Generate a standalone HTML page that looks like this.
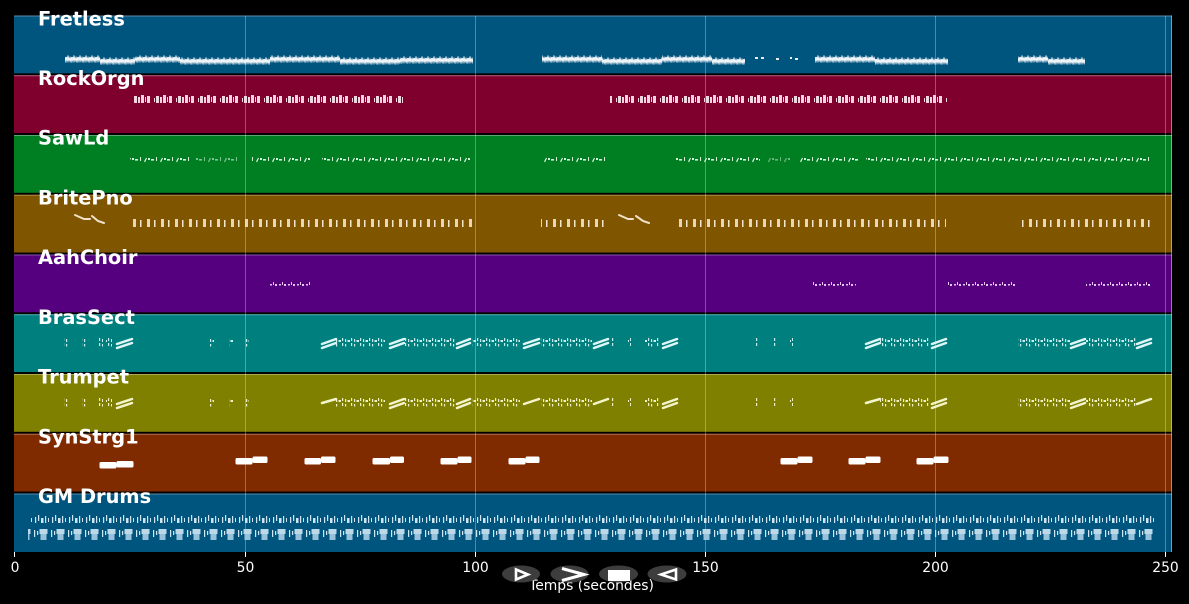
<!DOCTYPE html>
<html><head><meta charset="utf-8"><style>
html,body{margin:0;padding:0;background:#000;}
svg{display:block;}
text{font-family:"DejaVu Sans","Liberation Sans",sans-serif;}
</style></head><body>
<svg width="1189" height="604" viewBox="0 0 1189 604" xmlns="http://www.w3.org/2000/svg">
<defs>
<pattern id="pf" width="6" height="8" patternUnits="userSpaceOnUse">
<polyline points="0,2 1,5.5 2,2 3,5.5 4,3 5,6 6,2" fill="none" stroke="#eef4f8" stroke-width="1.5"/>
</pattern>
<pattern id="pr" width="22" height="9" patternUnits="userSpaceOnUse">
<g fill="#f2d6df"><rect x="0" y="3" width="1" height="4"/><rect x="2" y="1" width="3" height="7"/><rect x="6" y="2" width="2" height="6"/><rect x="9" y="0" width="3" height="8"/><rect x="13" y="2" width="1" height="5"/><rect x="15" y="1" width="3" height="7"/></g>
</pattern>
<pattern id="ps" width="16" height="9" patternUnits="userSpaceOnUse">
<line x1="0.5" y1="7" x2="2.5" y2="3" stroke="#d6f0dc" stroke-width="1.2"/>
<g fill="#d6f0dc"><rect x="4" y="3" width="2" height="2"/><rect x="7" y="4" width="3" height="1.6"/><rect x="12" y="2" width="1" height="4"/></g>
</pattern>
<pattern id="pb" width="14" height="10" patternUnits="userSpaceOnUse">
<g fill="#f3e6cc"><rect x="0" y="2" width="1.5" height="7"/><rect x="7" y="1" width="3" height="8" opacity="0.9"/></g>
</pattern>
<pattern id="pa" width="9" height="7" patternUnits="userSpaceOnUse">
<g fill="#e4c4f0"><rect x="0" y="3" width="2" height="1.5"/><rect x="3" y="1" width="1" height="3"/><rect x="5" y="3" width="2" height="2"/></g>
</pattern>
<pattern id="pbs" width="9" height="13" patternUnits="userSpaceOnUse">
<g fill="#c6eeee"><rect x="0" y="2" width="1.2" height="3"/><rect x="0" y="7" width="1.2" height="3"/><rect x="3" y="3" width="1.2" height="3"/><rect x="3" y="8" width="1.2" height="2.5"/><rect x="5.5" y="4" width="2.5" height="2"/></g>
</pattern>
<pattern id="pt" width="9" height="13" patternUnits="userSpaceOnUse">
<g fill="#f0f0c4"><rect x="0" y="2" width="1.2" height="3"/><rect x="0" y="7" width="1.2" height="3"/><rect x="3" y="3" width="1.2" height="3"/><rect x="3" y="8" width="1.2" height="2.5"/><rect x="5.5" y="4" width="2.5" height="2"/></g>
</pattern>
<pattern id="pd1" width="17" height="14" patternUnits="userSpaceOnUse">
<rect x="0" y="3" width="1.2" height="7" fill="#d4e6f1"/><rect x="3" y="4" width="1.2" height="4" fill="#d4e6f1"/>
<rect x="5.5" y="2" width="8" height="5" fill="#bcd9ea"/><rect x="6.5" y="7" width="6" height="6" fill="#98c2dc"/>
</pattern>
<pattern id="pd2" width="17" height="12" patternUnits="userSpaceOnUse">
<g fill="#cfe4f0"><rect x="1" y="4" width="1.2" height="6"/><rect x="4" y="2" width="1.2" height="6"/><rect x="7" y="5" width="2.5" height="5"/><rect x="11" y="3" width="1.2" height="7"/><rect x="14" y="5" width="1" height="4"/></g>
</pattern>
</defs>

<!-- lanes -->
<g>
<rect x="14" y="15.5" width="1158" height="57.8" fill="#00557f"/><rect x="14" y="15.5" width="1158" height="1" fill="#5a8cab"/>
<rect x="14" y="75.25" width="1158" height="57.8" fill="#7f002d"/><rect x="14" y="75.25" width="1158" height="1" fill="#b0607a"/>
<rect x="14" y="135" width="1158" height="57.8" fill="#007f22"/><rect x="14" y="135" width="1158" height="1" fill="#5aab6a"/>
<rect x="14" y="194.75" width="1158" height="57.8" fill="#7f5500"/><rect x="14" y="194.75" width="1158" height="1" fill="#ab8a50"/>
<rect x="14" y="254.5" width="1158" height="57.8" fill="#55007f"/><rect x="14" y="254.5" width="1158" height="1" fill="#8a55ab"/>
<rect x="14" y="314.25" width="1158" height="57.8" fill="#007f7f"/><rect x="14" y="314.25" width="1158" height="1" fill="#55abab"/>
<rect x="14" y="374" width="1158" height="57.8" fill="#7f7f00"/><rect x="14" y="374" width="1158" height="1" fill="#abab55"/>
<rect x="14" y="433.75" width="1158" height="57.8" fill="#802a00"/><rect x="14" y="433.75" width="1158" height="1" fill="#ab7050"/>
<rect x="14" y="493.5" width="1158" height="58.5" fill="#00557f"/><rect x="14" y="493.5" width="1158" height="1" fill="#5a8cab"/>
</g>
<g opacity="0.45">
<rect x="1171" y="15.5" width="1" height="536.5" fill="#ffffff"/>
</g>

<!-- grid -->
<g stroke="rgba(255,255,255,0.3)" stroke-width="1">
<line x1="245.5" y1="16" x2="245.5" y2="552"/>
<line x1="475.5" y1="16" x2="475.5" y2="552"/>
<line x1="705.5" y1="16" x2="705.5" y2="552"/>
<line x1="935.5" y1="16" x2="935.5" y2="552"/>
<line x1="1165.5" y1="16" x2="1165.5" y2="552"/>
</g>

<!-- Fretless -->
<g fill="url(#pf)">
<rect transform="translate(0,55)" x="65" width="35" height="8"/>
<rect transform="translate(0,57)" x="100" width="35" height="8"/>
<rect transform="translate(0,55)" x="135" width="45" height="8"/>
<rect transform="translate(0,57)" x="180" width="90" height="8"/>
<rect transform="translate(0,55)" x="270" width="70" height="8"/>
<rect transform="translate(0,57)" x="340" width="60" height="8"/>
<rect transform="translate(0,56)" x="400" width="73" height="8"/>
<rect transform="translate(0,55)" x="542" width="60" height="8"/>
<rect transform="translate(0,57)" x="602" width="60" height="8"/>
<rect transform="translate(0,55)" x="662" width="50" height="8"/>
<rect transform="translate(0,57)" x="712" width="33" height="8"/>
<rect transform="translate(0,55)" x="815" width="60" height="8"/>
<rect transform="translate(0,57)" x="875" width="73" height="8"/>
<rect transform="translate(0,55)" x="1018" width="30" height="8"/>
<rect transform="translate(0,57)" x="1048" width="37" height="8"/>
</g>
<g fill="#e6eef4"><rect x="755" y="57" width="3" height="2"/><rect x="761" y="57" width="3" height="2"/><rect x="776" y="58" width="3" height="2"/><rect x="790" y="57" width="2" height="2"/><rect x="795" y="58" width="3" height="2"/></g>

<!-- RockOrgn -->
<g fill="url(#pr)">
<rect transform="translate(0,95)" x="133" width="270" height="9"/>
<rect transform="translate(0,95)" x="610" width="337" height="9"/>
</g>

<!-- SawLd -->
<g fill="url(#ps)">
<rect transform="translate(0,155)" x="130" width="60" height="9"/>
<rect transform="translate(0,155)" x="195" width="45" height="9" opacity="0.6"/>
<rect transform="translate(0,155)" x="250" width="60" height="9"/>
<rect transform="translate(0,155)" x="322" width="148" height="9"/>
<rect transform="translate(0,155)" x="541" width="66" height="9"/>
<rect transform="translate(0,155)" x="676" width="84" height="9"/>
<rect transform="translate(0,155)" x="768" width="22" height="9" opacity="0.5"/>
<rect transform="translate(0,155)" x="800" width="60" height="9"/>
<rect transform="translate(0,155)" x="866" width="286" height="9"/>
</g>

<!-- BritePno -->
<g fill="url(#pb)">
<rect transform="translate(0,218)" x="133" width="340" height="10"/>
<rect transform="translate(0,218)" x="541" width="67" height="10"/>
<rect transform="translate(0,218)" x="678" width="268" height="10"/>
<rect transform="translate(0,218)" x="1018" width="134" height="10"/>
</g>
<g stroke="#efe2c8" stroke-width="2" stroke-linecap="round" fill="none">
<polyline points="75,215 84,219 90,219"/><polyline points="92,216 98,221 104,223"/>
<polyline points="619,215 628,219 633,219"/><polyline points="636,216 643,221 649,223"/>
</g>

<!-- AahChoir -->
<g fill="url(#pa)">
<rect transform="translate(0,281)" x="268" width="43" height="7"/>
<rect transform="translate(0,281)" x="812" width="44" height="7"/>
<rect transform="translate(0,281)" x="948" width="67" height="7"/>
<rect transform="translate(0,281)" x="1086" width="66" height="7"/>
</g>

<!-- BrasSect -->
<g fill="url(#pbs)" transform="translate(0,336)">
<rect x="64" width="4" height="13"/><rect x="82" width="4" height="13"/><rect x="99" width="4" height="13"/><rect x="106" width="6" height="13"/>
<rect x="210" width="4" height="13"/><rect x="229" width="4" height="13"/><rect x="246" width="3" height="13"/>
<rect x="336" width="49" height="13"/><rect x="405" width="50" height="13"/><rect x="472" width="48" height="13"/><rect x="541" width="51" height="13"/>
<rect x="612" width="3" height="13"/><rect x="628" width="3" height="13"/><rect x="645" width="15" height="13"/>
<rect x="755" width="3" height="13"/><rect x="773" width="3" height="13"/><rect x="790" width="3" height="13"/>
<rect x="880" width="50" height="13"/><rect x="1018" width="52" height="13"/><rect x="1086" width="50" height="13"/>
</g>
<g stroke="#e0f6f6" stroke-width="2.5" stroke-linecap="round">
<path d="M117 344L132 339M117 348L132 343M322 344L336 339M322 348L336 343M390 344L404 339M390 348L404 343M457 344L470 339M457 348L470 343M524 344L539 339M524 348L539 343M594 344L608 339M594 348L608 343M663 344L677 339M663 348L677 343M866 344L880 339M866 348L880 343M932 344L946 339M932 348L946 343M1071 344L1085 339M1071 348L1085 343M1137 344L1151 339M1137 348L1151 343"/>
</g>

<!-- Trumpet -->
<g fill="url(#pt)" transform="translate(0,396)">
<rect x="64" width="4" height="13"/><rect x="82" width="4" height="13"/><rect x="99" width="4" height="13"/><rect x="106" width="6" height="13"/>
<rect x="210" width="4" height="13"/><rect x="229" width="4" height="13"/><rect x="246" width="3" height="13"/>
<rect x="336" width="49" height="13"/><rect x="405" width="50" height="13"/><rect x="472" width="48" height="13"/><rect x="541" width="51" height="13"/>
<rect x="612" width="3" height="13"/><rect x="628" width="3" height="13"/><rect x="645" width="15" height="13"/>
<rect x="755" width="3" height="13"/><rect x="773" width="3" height="13"/><rect x="790" width="3" height="13"/>
<rect x="880" width="50" height="13"/><rect x="1018" width="52" height="13"/><rect x="1086" width="50" height="13"/>
</g>
<g stroke="#f4f4cc" stroke-width="2.5" stroke-linecap="round">
<path d="M117 404L132 399M117 408L132 403M322 403L336 399M390 404L404 399M390 408L404 403M457 404L470 399M457 408L470 403M524 404L539 399M594 404L608 399M663 404L677 399M663 408L677 403M866 403L880 399M932 404L946 399M932 408L946 403M1071 404L1085 399M1071 408L1085 403M1137 404L1151 399"/>
</g>

<!-- SynStrg1 -->
<g fill="#ffffff">
<rect x="99.5" y="462" width="17" height="6.5" rx="1.5"/><rect x="116.5" y="461" width="17" height="6.5" rx="1.5"/>
<rect x="235.5" y="458" width="17" height="6.5" rx="1.5"/><rect x="252.5" y="456.5" width="15" height="6.5" rx="1.5"/>
<rect x="304.5" y="458" width="16.5" height="6.5" rx="1.5"/><rect x="321" y="456.5" width="14.5" height="6.5" rx="1.5"/>
<rect x="372.5" y="458" width="17.5" height="6.5" rx="1.5"/><rect x="390" y="456.5" width="14" height="6.5" rx="1.5"/>
<rect x="440.5" y="458" width="17" height="6.5" rx="1.5"/><rect x="457.5" y="456.5" width="14" height="6.5" rx="1.5"/>
<rect x="508.5" y="458" width="17" height="6.5" rx="1.5"/><rect x="525.5" y="456.5" width="14" height="6.5" rx="1.5"/>
<rect x="780.5" y="458" width="17" height="6.5" rx="1.5"/><rect x="797.5" y="456.5" width="15" height="6.5" rx="1.5"/>
<rect x="848.5" y="458" width="17" height="6.5" rx="1.5"/><rect x="865.5" y="456.5" width="15" height="6.5" rx="1.5"/>
<rect x="916.5" y="458" width="17" height="6.5" rx="1.5"/><rect x="933.5" y="456.5" width="15" height="6.5" rx="1.5"/>
</g>

<!-- GM Drums -->
<rect transform="translate(0,513)" x="30" width="1125" height="12" fill="url(#pd2)"/>
<rect transform="translate(0,527)" x="28" width="1127" height="14" fill="url(#pd1)"/>

<!-- labels -->
<g fill="#ffffff" font-weight="bold" font-size="19.4">
<text x="38" y="25.5">Fretless</text>
<text x="38" y="85">RockOrgn</text>
<text x="38" y="144.5">SawLd</text>
<text x="38" y="204.5">BritePno</text>
<text x="38" y="264">AahChoir</text>
<text x="38" y="324">BrasSect</text>
<text x="38" y="383.5">Trumpet</text>
<text x="38" y="443.5">SynStrg1</text>
<text x="38" y="503">GM Drums</text>
</g>

<!-- x axis -->
<g stroke="#ffffff" stroke-width="1">
<line x1="14.5" y1="552" x2="14.5" y2="557"/>
<line x1="245.5" y1="552" x2="245.5" y2="557"/>
<line x1="475.5" y1="552" x2="475.5" y2="557"/>
<line x1="705.5" y1="552" x2="705.5" y2="557"/>
<line x1="935.5" y1="552" x2="935.5" y2="557"/>
<line x1="1165.5" y1="552" x2="1165.5" y2="557"/>
</g>
<g fill="#ffffff" font-size="13.9" text-anchor="middle">
<text x="15" y="572">0</text>
<text x="245.5" y="572">50</text>
<text x="475.5" y="572">100</text>
<text x="705.5" y="572">150</text>
<text x="935.5" y="572">200</text>
<text x="1165.5" y="572">250</text>
<text x="591.5" y="590">Temps (secondes)</text>
</g>

<!-- playback buttons -->
<g fill="#3d3d3d">
<ellipse cx="521" cy="574" rx="19" ry="8.5"/>
<ellipse cx="569.5" cy="574" rx="19" ry="8.5"/>
<ellipse cx="618.5" cy="574" rx="19.5" ry="8.5"/>
<ellipse cx="667" cy="574" rx="19.5" ry="8.5"/>
</g>
<g stroke="#ffffff" fill="none" stroke-linejoin="miter">
<polygon points="516,569.5 528,574.5 516,579.5" stroke-width="2.6"/>
<polyline points="562,568.5 584,574.5 562,580.5" stroke-width="3"/>
<polygon points="676,569.5 661,574.5 676,579.5" stroke-width="2.6"/>
</g>
<rect x="608" y="570" width="22" height="11" fill="#ffffff"/>
</svg>
</body></html>
